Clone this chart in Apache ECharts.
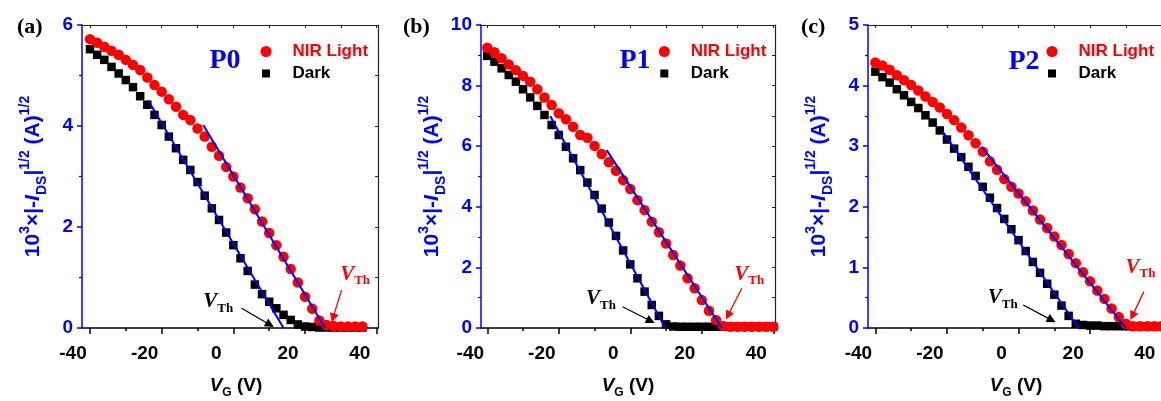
<!DOCTYPE html>
<html>
<head>
<meta charset="utf-8">
<script src="https://cdn.jsdelivr.net/npm/echarts@6/dist/echarts.min.js"></script>
<style>
html,body{margin:0;padding:0;background:#fff;}
#chart{width:1161px;height:401px;}
</style>
</head>
<body>
<div id="chart"></div>
<script>
// ---------- tick labels ----------
const xMajorTicks = [-40, -20, 0, 20, 40];
const xMinorTicks = [-30, -10, 10, 30];
const xTopTicks = [-40, -30, -20, -10, 0, 10, 20, 30, 40];

// ---------- panel (a) P0 ----------
const vgA = [-40,-38,-36,-34,-32,-30,-28,-26,-24,-22,-20,-18,-16,-14,-12,-10,-8,-6,-4,-2,0,2,4,6,8,10,12,14,16,18,20,22,24,26,28,30,32,34,36];
const lightA = [5.72,5.65,5.57,5.49,5.41,5.31,5.21,5.11,4.96,4.81,4.68,4.53,4.38,4.22,4.12,3.95,3.79,3.59,3.41,3.19,3.00,2.78,2.57,2.35,2.11,1.88,1.64,1.41,1.17,0.90,0.62,0.38,0.15,0.06,0.04,0.03,0.03,0.03,0.03];
const darkA = [5.52,5.41,5.31,5.17,5.04,4.91,4.77,4.59,4.42,4.22,4.02,3.79,3.56,3.33,3.13,2.89,2.62,2.37,2.14,1.89,1.64,1.38,1.13,0.86,0.67,0.52,0.39,0.26,0.16,0.07,0.03,0.02,0.01,0.01,0.01,0.01,0.01,0.01,0.01];
const fitLightA = [[-8.4, 4.02], [25.6, 0]];
const fitDarkA = [[-23.8, 4.51], [14.0, 0]];

// ---------- panel (b) P1 ----------
const vgB = [-40,-38,-36,-34,-32,-30,-28,-26,-24,-22,-20,-18,-16,-14,-12,-10,-8,-6,-4,-2,0,2,4,6,8,10,12,14,16,18,20,22,24,26,28,30,32,34,36,38,40];
const lightB = [9.25,9.10,8.90,8.70,8.51,8.32,8.13,7.88,7.61,7.36,7.09,6.89,6.64,6.37,6.28,6.01,5.74,5.47,5.19,4.88,4.59,4.22,3.89,3.51,3.16,2.79,2.41,2.06,1.64,1.31,0.92,0.57,0.26,0.07,0.04,0.04,0.04,0.04,0.04,0.04,0.04];
const darkB = [8.98,8.79,8.57,8.35,8.13,7.88,7.61,7.33,7.03,6.70,6.37,5.98,5.60,5.21,4.80,4.39,3.94,3.48,3.04,2.56,2.10,1.64,1.20,0.76,0.40,0.12,0.05,0.04,0.04,0.04,0.04,0.04,0.04,0.04,0.04,0.04,0.04,0.04,0.04,0.04,0.04];
const fitLightB = [[-6.6, 5.87], [25.6, 0]];
const fitDarkB = [[-22.4, 7.0], [9.8, 0]];

// ---------- panel (c) P2 ----------
const vgC = [-40,-38,-36,-34,-32,-30,-28,-26,-24,-22,-20,-18,-16,-14,-12,-10,-8,-6,-4,-2,0,2,4,6,8,10,12,14,16,18,20,22,24,26,28,30,32,34,36,38,40];
const lightC = [4.38,4.33,4.26,4.17,4.09,4.01,3.92,3.82,3.73,3.64,3.53,3.43,3.31,3.18,3.05,2.91,2.75,2.61,2.46,2.33,2.22,2.09,1.94,1.79,1.65,1.51,1.37,1.22,1.07,0.92,0.77,0.62,0.48,0.32,0.18,0.07,0.03,0.03,0.03,0.03,0.03];
const darkC = [4.23,4.14,4.05,3.94,3.84,3.73,3.63,3.51,3.39,3.26,3.11,2.96,2.82,2.66,2.51,2.33,2.15,1.98,1.80,1.63,1.45,1.27,1.09,0.91,0.73,0.55,0.37,0.20,0.07,0.05,0.04,0.04,0.03,0.03,0.03,0.03,0.03,0.03,0.03,0.03,0.03];
const fitLightC = [[-10.3, 2.99], [30.0, 0]];
const fitDarkC = [[-21.2, 3.24], [16.8, 0]];

const panelLabels = ['(a)', '(b)', '(c)'];
const panelTags = ['P0', 'P1', 'P2'];
const seriesNames = ['NIR Light', 'Dark'];

// ---------- layout (pixels / data-unit anchors for annotations) ----------
const SANS = '"Liberation Sans", Arial, sans-serif';
const SERIF = '"Liberation Serif", "Times New Roman", serif';
const BLUE = '#0000ff';
const RED = '#ff0000';

const layout = [
  { left: 82, width: 296, xMin: -42.23, xMax: 40.36, yMax: 6, yStep: 2, rStep: 1, xNamePad: 12,
    legendLeft: 255.5, labelX: 17, tagX: 225, tagY: 61,
    darkText: [-8.4, 0.52], darkArrow: [[2.3, 0.39], [10.2, 0.065]],
    lightText: [29.8, 1.06], lightArrow: [[30.2, 0.75], [27.8, 0.20]] },
  { left: 481, width: 294, xMin: -41.76, xMax: 40.48, yMax: 10, yStep: 2, rStep: 1, xNamePad: 0,
    legendLeft: 653.8, labelX: 403, tagX: 635, tagY: 61,
    darkText: [-12.4, 0.96], darkArrow: [[-2.15, 0.70], [5.7, 0.23]],
    lightText: [29.1, 1.77], lightArrow: [[31.2, 1.31], [27.3, 0.41]] },
  { left: 868, width: 296, xMin: -42.06, xMax: 40.64, yMax: 5, yStep: 1, rStep: 0.5, xNamePad: 0,
    legendLeft: 1041.5, labelX: 801, tagX: 1024, tagY: 62,
    darkText: [-8.6, 0.50], darkArrow: [[1.3, 0.38], [9.25, 0.13]],
    lightText: [29.9, 1.00], lightArrow: [[35.0, 0.60], [31.8, 0.20]] }
];

const panels = [
  { vg: vgA, light: lightA, dark: darkA, fitLight: fitLightA, fitDark: fitDarkA },
  { vg: vgB, light: lightB, dark: darkB, fitLight: fitLightB, fitDark: fitDarkB },
  { vg: vgC, light: lightC, dark: darkC, fitLight: fitLightC, fitDark: fitDarkC }
];

const yNameRich = {
  m: { fontFamily: SANS, fontWeight: 'bold', fontSize: 21, color: BLUE, lineHeight: 31 },
  mi: { fontFamily: SANS, fontWeight: 'bold', fontStyle: 'italic', fontSize: 21, color: BLUE, lineHeight: 31 },
  sup: { fontFamily: SANS, fontWeight: 'bold', fontSize: 14, color: BLUE, lineHeight: 15, verticalAlign: 'top' },
  sub: { fontFamily: SANS, fontWeight: 'bold', fontSize: 14, color: BLUE, lineHeight: 15, verticalAlign: 'bottom' }
};
const xNameRich = {
  m: { fontFamily: SANS, fontWeight: 'bold', fontSize: 19, color: '#000', lineHeight: 26 },
  vi: { fontFamily: SANS, fontWeight: 'bold', fontStyle: 'italic', fontSize: 19, color: '#000', lineHeight: 26 },
  sub: { fontFamily: SANS, fontWeight: 'bold', fontSize: 12, color: '#000', lineHeight: 13, verticalAlign: 'bottom' }
};
function vthRich(color) {
  return {
    v: { fontFamily: SERIF, fontWeight: 'bold', fontStyle: 'italic', fontSize: 21, color: color, lineHeight: 26 },
    s: { fontFamily: SERIF, fontWeight: 'bold', fontSize: 13, color: color, lineHeight: 14, verticalAlign: 'bottom' }
  };
}

const option = {
  animation: false,
  backgroundColor: '#ffffff',
  grid: [], xAxis: [], yAxis: [], legend: [], series: [], graphic: []
};

panels.forEach(function (p, i) {
  const L = layout[i];
  option.grid.push({ left: L.left, top: 25, width: L.width, height: 303, containLabel: false, outerBoundsMode: 'none' });

  const xBase = { gridIndex: i, type: 'value', min: L.xMin, max: L.xMax, splitLine: { show: false } };
  option.xAxis.push(Object.assign({}, xBase, {
    position: 'bottom',
    axisLine: { show: true, onZero: false, lineStyle: { color: '#000', width: 1.5 } },
    axisTick: { show: true, customValues: xMajorTicks, length: 6, lineStyle: { color: '#000', width: 1.5 } },
    axisLabel: { show: true, customValues: xMajorTicks, color: '#000', fontFamily: SANS, fontWeight: 'bold', fontSize: 19, margin: 16, padding: [0, 34, 0, 0] },
    name: '{vi|V}{sub|G}{m| (V)}', nameLocation: 'middle', nameGap: 45, nameMoveOverlap: false,
    nameTextStyle: { padding: [0, 0, 0, L.xNamePad], rich: xNameRich }
  }));
  option.xAxis.push(Object.assign({}, xBase, {
    position: 'bottom',
    axisLine: { show: false, onZero: false },
    axisTick: { show: true, customValues: xMinorTicks, length: 3, lineStyle: { color: '#000', width: 1.5 } },
    axisLabel: { show: false }
  }));
  option.xAxis.push(Object.assign({}, xBase, {
    position: 'top',
    axisLine: { show: true, onZero: false, lineStyle: { color: '#222', width: 1.2 } },
    axisTick: { show: true, inside: true, customValues: xTopTicks, length: 3, lineStyle: { color: '#222', width: 1 } },
    axisLabel: { show: false }
  }));

  option.yAxis.push({
    gridIndex: i, type: 'value', position: 'left', min: 0, max: L.yMax, interval: L.yStep,
    splitLine: { show: false },
    axisLine: { show: true, onZero: false, lineStyle: { color: BLUE, width: 1.5 } },
    axisTick: { show: true, length: 5, lineStyle: { color: BLUE, width: 1.5 } },
    minorTick: { show: true, splitNumber: 2, length: 3, lineStyle: { color: BLUE, width: 1.2 } },
    axisLabel: { color: BLUE, fontFamily: SANS, fontWeight: 'bold', fontSize: 19, margin: 9 },
    name: '{m|10}{sup|3}{m|×|-}{mi|I}{sub|DS}{m||}{sup|1/2}{m| (A)}{sup|1/2}',
    nameLocation: 'middle', nameRotate: 90, nameGap: 33, nameMoveOverlap: false,
    nameTextStyle: { rich: yNameRich }
  });
  option.yAxis.push({
    gridIndex: i, type: 'value', position: 'right', min: 0, max: L.yMax, interval: L.rStep,
    splitLine: { show: false },
    axisLine: { show: true, onZero: false, lineStyle: { color: '#222', width: 1.2 } },
    axisTick: { show: true, inside: true, length: 3, lineStyle: { color: '#222', width: 1 } },
    axisLabel: { show: false }
  });

  option.legend.push({
    left: L.legendLeft, top: 38, orient: 'vertical', itemWidth: 43, itemHeight: 11, itemGap: 5,
    selectedMode: false,
    textStyle: { fontFamily: SANS, fontWeight: 'bold', fontSize: 17 },
    data: [
      { name: seriesNames[0], icon: 'circle', textStyle: { color: RED } },
      { name: seriesNames[1], icon: 'path://M0,0M1.5,1.5L9.5,1.5L9.5,9.5L1.5,9.5ZM11,11', textStyle: { color: '#000' } }
    ]
  });

  const xi = i * 3, yi = i * 2;
  option.series.push({
    type: 'scatter', name: seriesNames[1], xAxisIndex: xi, yAxisIndex: yi, z: 2,
    symbol: 'rect', symbolSize: 8.5, itemStyle: { color: '#000', opacity: 1 },
    data: p.vg.map(function (v, k) { return [v, p.dark[k]]; })
  });
  option.series.push({
    type: 'scatter', name: seriesNames[0], xAxisIndex: xi, yAxisIndex: yi, z: 3,
    symbol: 'circle', symbolSize: 10.5, itemStyle: { color: RED, opacity: 1 },
    data: p.vg.map(function (v, k) { return [v, p.light[k]]; })
  });
  option.series.push({
    type: 'line', name: 'fitDark' + i, xAxisIndex: xi, yAxisIndex: yi, z: 4,
    symbol: 'none', lineStyle: { color: BLUE, width: 2 }, data: p.fitDark,
    markLine: {
      silent: true, symbol: ['none', 'triangle'], symbolSize: 9, animation: false,
      lineStyle: { color: '#000', width: 1.3, type: 'solid' }, label: { show: false },
      emphasis: { disabled: true },
      data: [[{ coord: L.darkArrow[0] }, { coord: L.darkArrow[1] }]]
    },
    markPoint: {
      silent: true, symbol: 'circle', symbolSize: 0,
      label: { show: true, position: 'right', distance: 0, formatter: '{v|V}{s|Th}', rich: vthRich('#000') },
      data: [{ coord: L.darkText }]
    }
  });
  option.series.push({
    type: 'line', name: 'fitLight' + i, xAxisIndex: xi, yAxisIndex: yi, z: 4,
    symbol: 'none', lineStyle: { color: BLUE, width: 2 }, data: p.fitLight,
    markLine: {
      silent: true, symbol: ['none', 'triangle'], symbolSize: 9, animation: false,
      lineStyle: { color: RED, width: 1.3, type: 'solid' }, label: { show: false },
      emphasis: { disabled: true },
      data: [[{ coord: L.lightArrow[0] }, { coord: L.lightArrow[1] }]]
    },
    markPoint: {
      silent: true, symbol: 'circle', symbolSize: 0,
      label: { show: true, position: 'right', distance: 0, formatter: '{v|V}{s|Th}', rich: vthRich(RED) },
      data: [{ coord: L.lightText }]
    }
  });

  option.graphic.push({
    type: 'text', x: L.labelX, y: 27,
    style: { text: panelLabels[i], font: 'bold 22px ' + SERIF, fill: '#000', align: 'left', textAlign: 'left', verticalAlign: 'middle', textVerticalAlign: 'middle' }
  });
  option.graphic.push({
    type: 'text', x: L.tagX, y: L.tagY,
    style: { text: panelTags[i], font: 'bold 28px ' + SERIF, fill: BLUE, align: 'center', textAlign: 'center', verticalAlign: 'middle', textVerticalAlign: 'middle' }
  });
});

const chart = echarts.init(document.getElementById('chart'), null, { renderer: 'canvas' });
chart.setOption(option);
</script>
</body>
</html>
